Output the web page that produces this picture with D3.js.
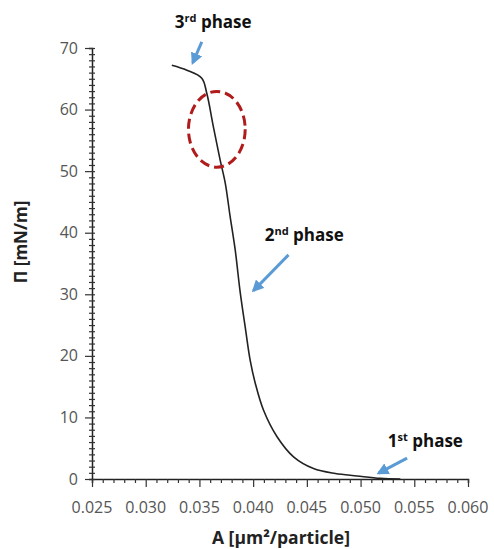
<!DOCTYPE html>
<html>
<head>
<meta charset="utf-8">
<script src="https://cdn.jsdelivr.net/npm/d3@7"></script>
<style>
  body { margin: 0; background: #fff; }
  text { font-family: "Open Sans", sans-serif; }
</style>
</head>
<body>
<script>
// isotherm: area per particle vs surface pressure
const area = [0.03243, 0.03383, 0.03522, 0.03569, 0.03630, 0.03693, 0.03740, 0.03786,
  0.03833, 0.03879, 0.03926, 0.03972, 0.04019, 0.04096, 0.04221, 0.04376, 0.04562,
  0.04765, 0.04967, 0.05184, 0.05370];
const pressure = [67.2, 66.4, 65.1, 62.6, 57.2, 51.8, 48.1, 42.6, 37.2, 30.4, 24.7,
  19.3, 15.6, 11.2, 6.9, 3.6, 1.7, 0.9, 0.5, 0.1, 0];

const xTicks = [0.025, 0.030, 0.035, 0.040, 0.045, 0.050, 0.055, 0.060];
const yTicks = [0, 10, 20, 30, 40, 50, 60, 70];

// phase labels (data units) and their arrows [from, to]
const phases = [
  { num: "3", sup: "rd", x: 0.03628, y: 73.2, from: [0.03522, 71.0], to: [0.03438, 67.6] },
  { num: "2", sup: "nd", x: 0.04476, y: 38.7, from: [0.04329, 36.4], to: [0.04003, 30.6] },
  { num: "1", sup: "st", x: 0.05603, y: 5.2, from: [0.05433, 3.4], to: [0.05168, 0.95] }
];

const W = 494, H = 549;
const m = { left: 92, top: 48, right: 26, bottom: 70 };

const svg = d3.select("body").append("svg").attr("width", W).attr("height", H);

const x = d3.scaleLinear().domain([0.025, 0.060]).range([m.left, W - m.right]);
const y = d3.scaleLinear().domain([0, 70]).range([H - m.bottom, m.top]);

svg.append("defs").append("marker")
  .attr("id", "head")
  .attr("viewBox", "0 0 10 10")
  .attr("refX", 8).attr("refY", 5)
  .attr("markerWidth", 4).attr("markerHeight", 4)
  .attr("orient", "auto")
  .append("path").attr("d", "M0,0 L10,5 L0,10 z").attr("fill", "#5b9bd5");

// x axis with minor ticks
const gx = svg.append("g").attr("transform", `translate(0,${y(0)})`);
gx.call(d3.axisBottom(x).tickValues(d3.range(0.025, 0.0605, 0.001)).tickSize(4).tickFormat(""));
gx.call(g => g.selectAll(".tick").filter(d => xTicks.some(t => Math.abs(t - d) < 1e-6))
  .select("line").attr("y2", 8));
gx.append("g").selectAll("text").data(xTicks).join("text")
  .attr("x", d => x(d)).attr("y", 34)
  .attr("text-anchor", "middle")
  .attr("font-size", 16).attr("fill", "#555")
  .text(d3.format(".3f"));

// y axis with minor ticks
const gy = svg.append("g").attr("transform", `translate(${x(0.025)},0)`);
gy.call(d3.axisLeft(y).tickValues(d3.range(0, 71, 1)).tickSize(3).tickFormat(""));
gy.selectAll(".tick line").attr("x2", -3).attr("x1", 3);
gy.call(g => g.selectAll(".tick").filter(d => d % 10 === 0)
  .select("line").attr("x2", -7).attr("x1", 3));
gy.append("g").selectAll("text").data(yTicks).join("text")
  .attr("x", -14).attr("y", d => y(d)).attr("dy", "0.35em")
  .attr("text-anchor", "end")
  .attr("font-size", 16).attr("fill", "#555")
  .text(d => d);

svg.selectAll(".domain").attr("stroke", "#222").attr("stroke-width", 1.5);
svg.selectAll(".tick line").attr("stroke", "#333").attr("stroke-width", 1.2);

// axis titles
svg.append("text")
  .attr("x", 281).attr("y", 544)
  .attr("text-anchor", "middle")
  .attr("font-size", 17.5).attr("font-weight", "bold").attr("fill", "#222")
  .text("A [µm²/particle]");
svg.append("text")
  .attr("transform", `translate(27,242) rotate(-90)`)
  .attr("text-anchor", "middle")
  .attr("font-size", 17).attr("font-weight", "bold").attr("fill", "#222")
  .text("Π [mN/m]");

// the isotherm
const pts = area.map((a, i) => [a, pressure[i]]);
svg.append("path")
  .datum(pts)
  .attr("fill", "none")
  .attr("stroke", "#222")
  .attr("stroke-width", 1.6)
  .attr("d", d3.line().x(d => x(d[0])).y(d => y(d[1])).curve(d3.curveCatmullRom.alpha(0.5)));

// red dashed ellipse around the collapse region
svg.append("ellipse")
  .attr("cx", x(0.03662)).attr("cy", y(56.8))
  .attr("rx", x(0.03926) - x(0.03662)).attr("ry", y(50.65) - y(56.8))
  .attr("fill", "none")
  .attr("stroke", "#b01c1c")
  .attr("stroke-width", 3)
  .attr("stroke-dasharray", "10 5");

// phase annotations
phases.forEach(p => {
  const t = svg.append("text")
    .attr("x", x(p.x)).attr("y", y(p.y))
    .attr("text-anchor", "middle")
    .attr("font-size", 17).attr("font-weight", "bold").attr("fill", "#111");
  t.append("tspan").text(p.num);
  t.append("tspan").attr("dy", -6).attr("font-size", 11).text(p.sup);
  t.append("tspan").attr("dy", 6).text(" phase");

  svg.append("line")
    .attr("x1", x(p.from[0])).attr("y1", y(p.from[1]))
    .attr("x2", x(p.to[0])).attr("y2", y(p.to[1]))
    .attr("stroke", "#5b9bd5")
    .attr("stroke-width", 3)
    .attr("marker-end", "url(#head)");
});
</script>
</body>
</html>
